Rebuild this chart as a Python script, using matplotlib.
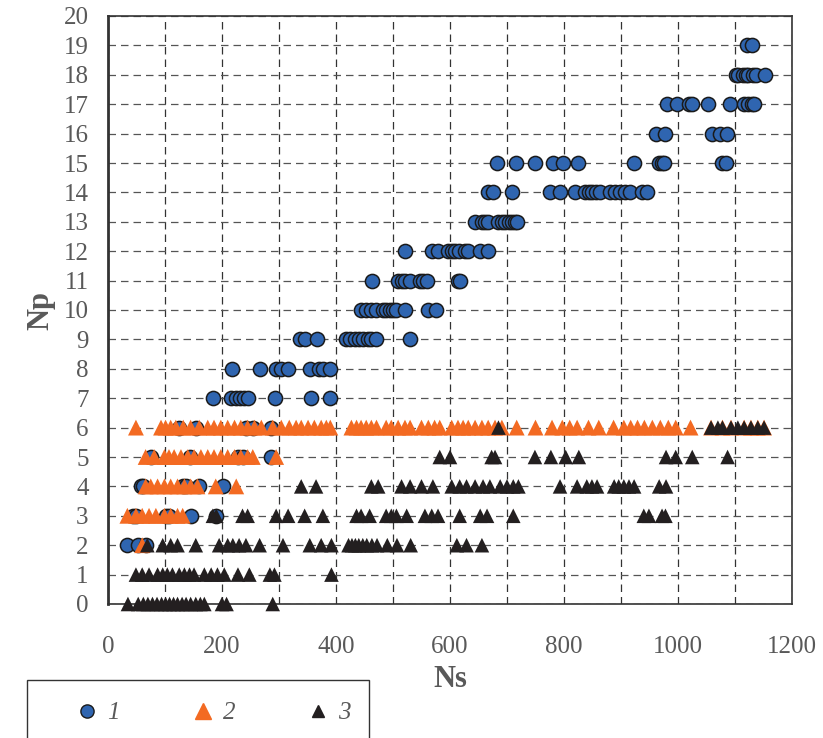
import matplotlib.pyplot as plt
from matplotlib.lines import Line2D
from matplotlib.patches import Rectangle
from matplotlib.ticker import MultipleLocator

plt.rcParams['font.family'] = ['Liberation Serif', 'DejaVu Serif']

# Np level -> Ns values, one dict per series
series1 = {
    2: [34, 52, 66],
    3: [43, 49, 101, 107, 145, 189],
    4: [58, 61, 131, 137, 160, 201],
    5: [75, 143, 228, 236, 286],
    6: [125, 154, 242, 254, 286],
    7: [185, 215, 225, 232, 238, 245, 293, 356, 389],
    8: [218, 266, 295, 304, 316, 354, 371, 377, 390],
    9: [337, 345, 366, 418, 425, 433, 440, 447, 456, 462, 470, 529],
    10: [444, 453, 462, 471, 482, 488, 494, 500, 506, 521, 562, 576],
    11: [464, 509, 515, 521, 530, 547, 553, 559, 614, 618],
    12: [521, 568, 579, 597, 603, 609, 615, 626, 632, 653, 666],
    13: [644, 656, 661, 667, 685, 691, 697, 703, 708, 714, 718],
    14: [667, 676, 708, 775, 793, 819, 837, 843, 849, 857, 864, 881, 890,
         898, 907, 916, 937, 946],
    15: [683, 716, 749, 780, 799, 825, 922, 966, 972, 975, 1078, 1084],
    16: [962, 978, 1060, 1073, 1086],
    17: [980, 998, 1019, 1025, 1053, 1092, 1116, 1123, 1129, 1134],
    18: [1101, 1106, 1114, 1119, 1123, 1131, 1137, 1152],
    19: [1121, 1129],
}

series2 = {
    2: [60],
    3: [34, 49, 60, 72, 84, 99, 110, 122, 131],
    4: [66, 75, 87, 99, 110, 122, 134, 145, 157, 189, 225],
    5: [66, 81, 99, 107, 116, 128, 140, 151, 163, 175, 186, 198, 210, 222,
        233, 245, 254, 295],
    6: [49, 93, 101, 110, 119, 132, 145, 160, 175, 186, 198, 210, 222, 233,
        245, 257, 269, 289, 304, 318, 330, 339, 351, 362, 374, 383, 390,
        427, 436, 444, 453, 462, 471, 488, 497, 509, 521, 530, 550, 562,
        573, 582, 603, 614, 623, 632, 644, 656, 667, 679, 691, 717, 750,
        779, 797, 810, 823, 843, 861, 887, 905, 917, 929, 941, 955, 969,
        983, 996, 1022, 1058, 1078, 1093, 1116, 1128, 1140, 1151],
}

series3 = {
    0: [35, 53, 62, 70, 78, 86, 94, 101, 108, 115, 122, 130, 137, 145, 154,
        162, 169, 200, 208, 289],
    1: [49, 60, 72, 87, 96, 104, 113, 125, 134, 143, 151, 169, 181, 192,
        204, 228, 248, 284, 292, 392],
    2: [69, 96, 110, 122, 154, 195, 210, 219, 230, 242, 266, 307, 354, 374,
        392, 422, 428, 434, 440, 447, 454, 463, 472, 490, 507, 531, 612,
        629, 656],
    3: [184, 190, 236, 245, 295, 316, 345, 377, 436, 444, 459, 488, 497,
        506, 524, 556, 568, 579, 617, 653, 665, 711, 940, 949, 972, 978],
    4: [339, 365, 462, 474, 515, 530, 550, 570, 603, 617, 629, 644, 658,
        670, 688, 700, 711, 720, 793, 823, 840, 849, 858, 888, 896, 905,
        914, 923, 967, 979],
    5: [582, 600, 673, 679, 749, 777, 803, 826, 979, 996, 1025, 1087],
    6: [685, 1058, 1070, 1078, 1093, 1105, 1116, 1128, 1140, 1151],
}

labels = ['1', '2', '3']
blue = '#2F65B0'
orange = '#F36A22'
black = '#231F20'
gray = '#595959'


def flatten(d):
    xs, ys = [], []
    for level, vals in d.items():
        xs += vals
        ys += [level] * len(vals)
    return xs, ys


fig = plt.figure(figsize=(8.23, 7.38), dpi=100)
ax = fig.add_axes([108 / 823, 1 - 604 / 738, 684 / 823, 588 / 738])

x1, y1 = flatten(series1)
x2, y2 = flatten(series2)
x3, y3 = flatten(series3)
ax.scatter(x1, y1, s=104, marker='o', color=blue, edgecolors='#1a1a1a',
           linewidths=1.1, zorder=3, clip_on=False)
ax.scatter(x2, y2, s=130, marker='^', color=orange, edgecolors='none',
           zorder=4, clip_on=False)
ax.scatter(x3, y3, s=110, marker='^', color=black, edgecolors='none',
           zorder=5, clip_on=False)

ax.set_xlim(0, 1200)
ax.set_ylim(0, 20)
ax.xaxis.set_major_locator(MultipleLocator(200))
ax.xaxis.set_minor_locator(MultipleLocator(100))
ax.yaxis.set_major_locator(MultipleLocator(1))
ax.grid(True, which='both', axis='x', color='#333333', linestyle=(0, (6, 4)), linewidth=0.9)
ax.grid(True, which='major', axis='y', color='#555555', linestyle=(0, (6, 4)), linewidth=0.9)
ax.set_axisbelow(True)
ax.tick_params(which='both', length=0, labelsize=18, labelcolor=gray)
ax.tick_params(axis='x', pad=23)
ax.tick_params(axis='y', pad=14)
for side in ['top', 'right', 'bottom']:
    ax.spines[side].set_color('#333333')
    ax.spines[side].set_linewidth(1.2)
ax.spines['left'].set_color('#333333')
ax.spines['left'].set_linewidth(2)

ax.set_xlabel('Ns', fontsize=22, fontweight='bold', color=gray, labelpad=5)
ax.set_ylabel('Np', fontsize=22, fontweight='bold', color=gray, labelpad=6)

# legend box runs off the bottom edge
fig.patches.append(Rectangle((27 / 823, -0.05), 342 / 823, 0.05 + 1 - 680 / 738,
                             transform=fig.transFigure, fill=False,
                             edgecolor='#333333', linewidth=1.0))
handles = [
    Line2D([], [], linestyle='none', marker='o', markersize=9.5, color=blue,
           markeredgecolor='#1a1a1a'),
    Line2D([], [], linestyle='none', marker='^', markersize=11.5, color=orange),
    Line2D([], [], linestyle='none', marker='^', markersize=9, color=black),
]
leg = fig.legend(handles, labels, loc='center left',
                 bbox_to_anchor=(52 / 823, 1 - 713 / 738), ncol=3,
                 frameon=False, handlelength=1, handletextpad=0.3,
                 columnspacing=2.82, prop={'size': 18, 'style': 'italic'})
for t in leg.get_texts():
    t.set_color(gray)

fig.savefig('out.png', dpi=100)
